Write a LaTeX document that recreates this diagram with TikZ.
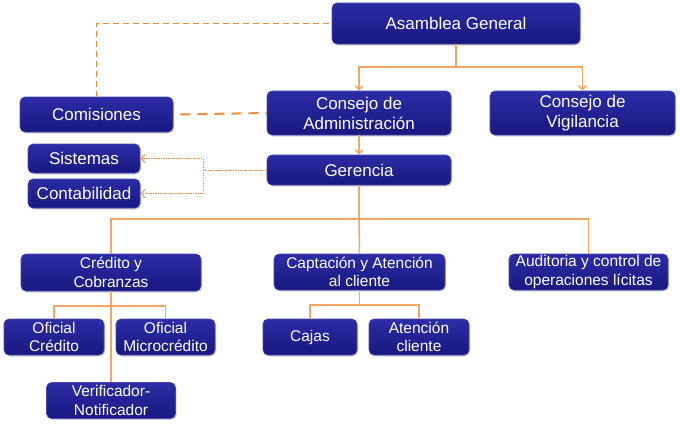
\documentclass[tikz,border=0pt]{standalone}
\usepackage{fontspec}
\setmainfont{Liberation Sans}
\usepackage{tikz}
\usetikzlibrary{shadows,arrows.meta}

\definecolor{boxtop}{RGB}{44,44,166}
\definecolor{boxbot}{RGB}{24,24,128}
\definecolor{boxrim}{RGB}{70,70,180}
\definecolor{linea}{RGB}{244,166,98}
\definecolor{guion}{RGB}{240,140,60}

\tikzset{
	>={Straight Barb[length=4pt, width=8pt]},
	caja/.style={rounded corners=5pt, top color=boxtop, bottom color=boxbot,
		draw=boxrim, line width=0.6pt, text=white, align=center, inner sep=0pt,
		drop shadow={opacity=0.35, shadow xshift=1pt, shadow yshift=-1.5pt}},
	alto/.style={caja, font=\fontsize{17}{20}\selectfont},
	bajo/.style={caja, font=\fontsize{15.5}{18.5}\selectfont},
	rama/.style={draw=linea, line width=1.5pt},
	guiones/.style={draw=guion, line width=1.4pt, dash pattern=on 6pt off 4pt},
	puntos/.style={draw=guion, line width=1pt, dash pattern=on 1.3pt off 1.2pt}
}

\begin{document}
\begin{tikzpicture}[x=1pt, y=-1pt]

	\useasboundingbox (0,0) rectangle (680,426);

	\node[alto, minimum width=248pt, minimum height=41pt] (asamblea) at (456,23.5) {Asamblea General};
	\node[alto, minimum width=184pt, minimum height=44pt] (admin) at (359,113) {Consejo de\\Administración};
	\node[alto, minimum width=185pt, minimum height=44pt] (vigilancia) at (582.5,113) {Consejo de\\Vigilancia};
	\node[alto, minimum width=153pt, minimum height=35pt] (comisiones) at (96.5,114.5) {Comisiones};
	\node[alto, minimum width=184pt, minimum height=30pt] (gerencia) at (359,170) {Gerencia};
	\node[alto, minimum width=112pt, minimum height=29pt] (sistemas) at (84,158.5) {Sistemas};
	\node[alto, minimum width=112pt, minimum height=29pt] (contab) at (84,193.5) {Contabilidad};

	\node[bajo, minimum width=180pt, minimum height=37pt] (credito) at (111,272.5) {Crédito y\\Cobranzas};
	\node[bajo, minimum width=171pt, minimum height=36pt] (captacion) at (359.5,272) {Captación y Atención\\al cliente};
	\node[bajo, minimum width=159pt, minimum height=36pt] (auditoria) at (588.5,272) {Auditoria y control de\\operaciones lícitas};

	\node[bajo, minimum width=100pt, minimum height=36pt] (ofcredito) at (54,337) {Oficial\\Crédito};
	\node[bajo, minimum width=99pt, minimum height=36pt] (ofmicro) at (165.5,337) {Oficial\\Microcrédito};
	\node[bajo, minimum width=129pt, minimum height=36pt] (verificador) at (111,400.5) {Verificador-\\Notificador};
	\node[bajo, minimum width=94pt, minimum height=36pt] (cajas) at (310,337) {Cajas};
	\node[bajo, minimum width=100pt, minimum height=36pt] (atencion) at (419,337) {Atención\\cliente};

	\coordinate (j1) at (456,67);
	\coordinate (j2) at (359,219);
	\coordinate (j3) at (111,306);
	\coordinate (j4) at (359.5,305);
	\coordinate (j5) at (203,170);

	\draw[rama] (asamblea.south) -- (j1);
	\foreach \n in {admin, vigilancia}
	{
		\draw[rama, ->] (j1) -| (\n.north);
	};
	\draw[rama, ->] (admin.south) -- (gerencia.north);

	\draw[rama] (gerencia.south) -- (j2);
	\foreach \n in {credito, auditoria}
	{
		\draw[rama] (j2) -| (\n.north);
	};
	\draw[rama] (j2) -- (captacion.north);

	\foreach \a / \n in {
	j3/ofcredito,
	j3/ofmicro,
	j4/cajas,
	j4/atencion}
	{
		\draw[rama] (\a) -| (\n.north);
	};
	\draw[rama] (credito.south) -- (j3) -- (verificador.north);
	\draw[rama] (captacion.south) -- (j4);

	\draw[guiones] (comisiones.north) |- (asamblea.west);
	\draw[guiones, line width=2pt, dash pattern=on 10pt off 7pt, shorten <=7pt] (comisiones.east) -- (admin.west);

	\draw[puntos] (gerencia.west) -- (j5);
	\foreach \n in {sistemas, contab}
	{
		\draw[puntos, ->] (j5) |- (\n.east);
	};

\end{tikzpicture}
\end{document}
